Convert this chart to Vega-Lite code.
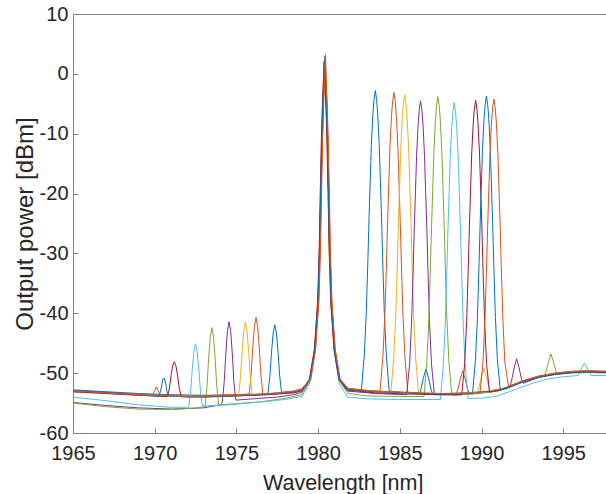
{
"$schema": "https://vega.github.io/schema/vega-lite/v6.json",
"width": 534, "height": 419,
"autosize": {"type": "none"},
"padding": {"left": 73, "top": 14, "right": 0, "bottom": 61},
"background": "white",
"config": {"view": {"stroke": "#808080", "strokeWidth": 1}, "font": "Liberation Sans"},
"data": {"values": [
{"s":"s1","x":1965,"y":-52.8},{"s":"s1","x":1967,"y":-53.1},{"s":"s1","x":1969,"y":-53.4},{"s":"s1","x":1971,"y":-53.6},{"s":"s1","x":1973,"y":-53.7},{"s":"s1","x":1975,"y":-53.6},{"s":"s1","x":1976.5,"y":-53.5},
{"s":"s1","x":1976.93,"y":-53.4},{"s":"s1","x":1977.05,"y":-50.5},{"s":"s1","x":1977.15,"y":-46.5},{"s":"s1","x":1977.25,"y":-43.3},{"s":"s1","x":1977.35,"y":-41.9},{"s":"s1","x":1977.45,"y":-43.3},{"s":"s1","x":1977.55,"y":-46.5},{"s":"s1","x":1977.65,"y":-50.5},{"s":"s1","x":1977.77,"y":-53.4},
{"s":"s1","x":1978.5,"y":-53.2},{"s":"s1","x":1979,"y":-52.8},{"s":"s1","x":1979.5,"y":-51},{"s":"s1","x":1979.8,"y":-46},{"s":"s1","x":1980,"y":-38},{"s":"s1","x":1980.1,"y":-29},{"s":"s1","x":1980.16,"y":-20},{"s":"s1","x":1980.23,"y":-11},{"s":"s1","x":1980.3,"y":-4.5},{"s":"s1","x":1980.35,"y":-1},{"s":"s1","x":1980.4,"y":2.8},{"s":"s1","x":1980.45,"y":-1},{"s":"s1","x":1980.5,"y":-4.5},{"s":"s1","x":1980.57,"y":-11},{"s":"s1","x":1980.64,"y":-20},{"s":"s1","x":1980.7,"y":-29},{"s":"s1","x":1980.8,"y":-38},{"s":"s1","x":1981,"y":-46},{"s":"s1","x":1981.3,"y":-51},{"s":"s1","x":1981.8,"y":-52.7},
{"s":"s1","x":1982.65,"y":-52.9},{"s":"s1","x":1982.83,"y":-46.8},{"s":"s1","x":1982.95,"y":-39.8},{"s":"s1","x":1983.05,"y":-30.8},{"s":"s1","x":1983.12,"y":-23.8},{"s":"s1","x":1983.19,"y":-17.8},{"s":"s1","x":1983.26,"y":-11.8},{"s":"s1","x":1983.35,"y":-6.8},{"s":"s1","x":1983.42,"y":-4.3},{"s":"s1","x":1983.5,"y":-2.8},{"s":"s1","x":1983.58,"y":-4.3},{"s":"s1","x":1983.65,"y":-6.8},{"s":"s1","x":1983.74,"y":-11.8},{"s":"s1","x":1983.81,"y":-17.8},{"s":"s1","x":1983.88,"y":-23.8},{"s":"s1","x":1983.95,"y":-30.8},{"s":"s1","x":1984.05,"y":-39.8},{"s":"s1","x":1984.17,"y":-46.8},{"s":"s1","x":1984.35,"y":-53},
{"s":"s1","x":1985.5,"y":-53.3},{"s":"s1","x":1986.2,"y":-53.4},{"s":"s1","x":1986.3,"y":-52.6},{"s":"s1","x":1986.45,"y":-50.7},{"s":"s1","x":1986.6,"y":-49.3},{"s":"s1","x":1986.75,"y":-50.7},{"s":"s1","x":1986.9,"y":-52.6},{"s":"s1","x":1987,"y":-53.4},
{"s":"s1","x":1988,"y":-53.4},{"s":"s1","x":1989,"y":-53.3},{"s":"s1","x":1990.5,"y":-53},{"s":"s1","x":1991.5,"y":-52.5},{"s":"s1","x":1992.5,"y":-51.4},{"s":"s1","x":1993.5,"y":-50.6},{"s":"s1","x":1994.5,"y":-50.1},{"s":"s1","x":1995.5,"y":-49.8},{"s":"s1","x":1996.5,"y":-49.7},{"s":"s1","x":1997.7,"y":-49.8},

{"s":"s2","x":1965,"y":-53},{"s":"s2","x":1967,"y":-53.3},{"s":"s2","x":1969,"y":-53.5},{"s":"s2","x":1971,"y":-53.8},{"s":"s2","x":1973,"y":-53.8},{"s":"s2","x":1975,"y":-53.6},
{"s":"s2","x":1975.78,"y":-53.5},{"s":"s2","x":1975.9,"y":-50.3},{"s":"s2","x":1976,"y":-45.8},{"s":"s2","x":1976.1,"y":-42.2},{"s":"s2","x":1976.2,"y":-40.7},{"s":"s2","x":1976.3,"y":-42.2},{"s":"s2","x":1976.4,"y":-45.8},{"s":"s2","x":1976.5,"y":-50.3},{"s":"s2","x":1976.62,"y":-53.5},
{"s":"s2","x":1977.5,"y":-53.3},{"s":"s2","x":1978.5,"y":-53},{"s":"s2","x":1979,"y":-52.6},
{"s":"s2","x":1979.52,"y":-51},{"s":"s2","x":1979.82,"y":-46},{"s":"s2","x":1980.02,"y":-38},{"s":"s2","x":1980.12,"y":-29},{"s":"s2","x":1980.18,"y":-20},{"s":"s2","x":1980.25,"y":-11},{"s":"s2","x":1980.32,"y":-4.5},{"s":"s2","x":1980.37,"y":-1},{"s":"s2","x":1980.42,"y":3},{"s":"s2","x":1980.47,"y":-1},{"s":"s2","x":1980.52,"y":-4.5},{"s":"s2","x":1980.59,"y":-11},{"s":"s2","x":1980.66,"y":-20},{"s":"s2","x":1980.72,"y":-29},{"s":"s2","x":1980.82,"y":-38},{"s":"s2","x":1981.02,"y":-46},{"s":"s2","x":1981.32,"y":-51},{"s":"s2","x":1981.82,"y":-52.5},
{"s":"s2","x":1983,"y":-52.9},{"s":"s2","x":1983.79,"y":-53},{"s":"s2","x":1983.97,"y":-47.1},{"s":"s2","x":1984.09,"y":-40.1},{"s":"s2","x":1984.19,"y":-31.1},{"s":"s2","x":1984.26,"y":-24.1},{"s":"s2","x":1984.33,"y":-18.1},{"s":"s2","x":1984.4,"y":-12.1},{"s":"s2","x":1984.49,"y":-7.1},{"s":"s2","x":1984.56,"y":-4.6},{"s":"s2","x":1984.64,"y":-3.1},{"s":"s2","x":1984.72,"y":-4.6},{"s":"s2","x":1984.79,"y":-7.1},{"s":"s2","x":1984.88,"y":-12.1},{"s":"s2","x":1984.95,"y":-18.1},{"s":"s2","x":1985.02,"y":-24.1},{"s":"s2","x":1985.09,"y":-31.1},{"s":"s2","x":1985.19,"y":-40.1},{"s":"s2","x":1985.31,"y":-47.1},{"s":"s2","x":1985.49,"y":-53.2},
{"s":"s2","x":1986.5,"y":-53.4},{"s":"s2","x":1988,"y":-53.5},{"s":"s2","x":1988.45,"y":-53.5},{"s":"s2","x":1988.55,"y":-52.7},{"s":"s2","x":1988.7,"y":-51},{"s":"s2","x":1988.85,"y":-49.6},{"s":"s2","x":1989,"y":-51},{"s":"s2","x":1989.15,"y":-52.7},{"s":"s2","x":1989.25,"y":-53.4},
{"s":"s2","x":1990.5,"y":-53},{"s":"s2","x":1991.5,"y":-52.4},{"s":"s2","x":1992.5,"y":-51.3},{"s":"s2","x":1993.5,"y":-50.5},{"s":"s2","x":1994.5,"y":-50},{"s":"s2","x":1995.5,"y":-49.7},{"s":"s2","x":1996.5,"y":-49.6},{"s":"s2","x":1997.7,"y":-49.7},

{"s":"s3","x":1965,"y":-53.2},{"s":"s3","x":1967,"y":-53.4},{"s":"s3","x":1969,"y":-53.7},{"s":"s3","x":1971,"y":-53.9},{"s":"s3","x":1973,"y":-53.9},{"s":"s3","x":1974.8,"y":-53.8},
{"s":"s3","x":1975.13,"y":-53.8},{"s":"s3","x":1975.25,"y":-50.7},{"s":"s3","x":1975.35,"y":-46.4},{"s":"s3","x":1975.45,"y":-43},{"s":"s3","x":1975.55,"y":-41.5},{"s":"s3","x":1975.65,"y":-43},{"s":"s3","x":1975.75,"y":-46.4},{"s":"s3","x":1975.85,"y":-50.7},{"s":"s3","x":1975.97,"y":-53.7},
{"s":"s3","x":1977,"y":-53.5},{"s":"s3","x":1978.5,"y":-53.1},{"s":"s3","x":1979,"y":-52.8},
{"s":"s3","x":1979.48,"y":-51},{"s":"s3","x":1979.78,"y":-46},{"s":"s3","x":1979.98,"y":-38},{"s":"s3","x":1980.08,"y":-29},{"s":"s3","x":1980.14,"y":-20},{"s":"s3","x":1980.21,"y":-11},{"s":"s3","x":1980.28,"y":-4.5},{"s":"s3","x":1980.33,"y":-1.2},{"s":"s3","x":1980.38,"y":2.2},{"s":"s3","x":1980.43,"y":-1.2},{"s":"s3","x":1980.48,"y":-4.5},{"s":"s3","x":1980.55,"y":-11},{"s":"s3","x":1980.62,"y":-20},{"s":"s3","x":1980.68,"y":-29},{"s":"s3","x":1980.78,"y":-38},{"s":"s3","x":1980.98,"y":-46},{"s":"s3","x":1981.28,"y":-51},{"s":"s3","x":1981.78,"y":-52.8},
{"s":"s3","x":1983.5,"y":-53.2},{"s":"s3","x":1984.45,"y":-53.3},{"s":"s3","x":1984.63,"y":-47.5},{"s":"s3","x":1984.75,"y":-40.5},{"s":"s3","x":1984.85,"y":-31.5},{"s":"s3","x":1984.92,"y":-24.5},{"s":"s3","x":1984.99,"y":-18.5},{"s":"s3","x":1985.06,"y":-12.5},{"s":"s3","x":1985.15,"y":-7.5},{"s":"s3","x":1985.22,"y":-5},{"s":"s3","x":1985.3,"y":-3.5},{"s":"s3","x":1985.38,"y":-5},{"s":"s3","x":1985.45,"y":-7.5},{"s":"s3","x":1985.54,"y":-12.5},{"s":"s3","x":1985.61,"y":-18.5},{"s":"s3","x":1985.68,"y":-24.5},{"s":"s3","x":1985.75,"y":-31.5},{"s":"s3","x":1985.85,"y":-40.5},{"s":"s3","x":1985.97,"y":-47.5},{"s":"s3","x":1986.15,"y":-53.4},
{"s":"s3","x":1987.5,"y":-53.5},{"s":"s3","x":1989,"y":-53.4},{"s":"s3","x":1989.75,"y":-53.2},{"s":"s3","x":1989.85,"y":-52.3},{"s":"s3","x":1990,"y":-50.6},{"s":"s3","x":1990.15,"y":-49.2},{"s":"s3","x":1990.3,"y":-50.6},{"s":"s3","x":1990.45,"y":-52.3},{"s":"s3","x":1990.55,"y":-53},
{"s":"s3","x":1991.5,"y":-52.5},{"s":"s3","x":1992.5,"y":-51.4},{"s":"s3","x":1993.5,"y":-50.7},{"s":"s3","x":1994.5,"y":-50.2},{"s":"s3","x":1995.5,"y":-49.9},{"s":"s3","x":1996.5,"y":-49.8},{"s":"s3","x":1997.7,"y":-49.9},

{"s":"s4","x":1965,"y":-54.9},{"s":"s4","x":1967,"y":-55.4},{"s":"s4","x":1969,"y":-55.8},{"s":"s4","x":1971,"y":-56},{"s":"s4","x":1973,"y":-55.8},{"s":"s4","x":1974,"y":-55.3},
{"s":"s4","x":1974.13,"y":-55},{"s":"s4","x":1974.25,"y":-51.6},{"s":"s4","x":1974.35,"y":-46.8},{"s":"s4","x":1974.45,"y":-43},{"s":"s4","x":1974.55,"y":-41.4},{"s":"s4","x":1974.65,"y":-43},{"s":"s4","x":1974.75,"y":-46.8},{"s":"s4","x":1974.85,"y":-51.6},{"s":"s4","x":1974.97,"y":-54.5},
{"s":"s4","x":1976,"y":-54.3},{"s":"s4","x":1977.5,"y":-54},{"s":"s4","x":1978.5,"y":-53.6},{"s":"s4","x":1979,"y":-53.2},
{"s":"s4","x":1979.5,"y":-51.2},{"s":"s4","x":1979.8,"y":-46},{"s":"s4","x":1980,"y":-38},{"s":"s4","x":1980.1,"y":-29},{"s":"s4","x":1980.16,"y":-20},{"s":"s4","x":1980.23,"y":-11},{"s":"s4","x":1980.3,"y":-4.5},{"s":"s4","x":1980.35,"y":-1.5},{"s":"s4","x":1980.4,"y":2},{"s":"s4","x":1980.45,"y":-1.5},{"s":"s4","x":1980.5,"y":-4.5},{"s":"s4","x":1980.57,"y":-11},{"s":"s4","x":1980.64,"y":-20},{"s":"s4","x":1980.7,"y":-29},{"s":"s4","x":1980.8,"y":-38},{"s":"s4","x":1981,"y":-46},{"s":"s4","x":1981.3,"y":-51.2},{"s":"s4","x":1981.8,"y":-53},
{"s":"s4","x":1983.5,"y":-53.4},{"s":"s4","x":1985.42,"y":-53.6},{"s":"s4","x":1985.6,"y":-48.5},{"s":"s4","x":1985.72,"y":-41.5},{"s":"s4","x":1985.82,"y":-32.5},{"s":"s4","x":1985.89,"y":-25.5},{"s":"s4","x":1985.96,"y":-19.5},{"s":"s4","x":1986.03,"y":-13.5},{"s":"s4","x":1986.12,"y":-8.5},{"s":"s4","x":1986.19,"y":-6},{"s":"s4","x":1986.27,"y":-4.5},{"s":"s4","x":1986.35,"y":-6},{"s":"s4","x":1986.42,"y":-8.5},{"s":"s4","x":1986.51,"y":-13.5},{"s":"s4","x":1986.58,"y":-19.5},{"s":"s4","x":1986.65,"y":-25.5},{"s":"s4","x":1986.72,"y":-32.5},{"s":"s4","x":1986.82,"y":-41.5},{"s":"s4","x":1986.94,"y":-48.5},{"s":"s4","x":1987.12,"y":-53.6},
{"s":"s4","x":1988.5,"y":-53.6},{"s":"s4","x":1990,"y":-53.3},{"s":"s4","x":1991.2,"y":-52.8},{"s":"s4","x":1991.75,"y":-52.2},{"s":"s4","x":1991.85,"y":-51.1},{"s":"s4","x":1992,"y":-49.1},{"s":"s4","x":1992.15,"y":-47.6},{"s":"s4","x":1992.3,"y":-49.1},{"s":"s4","x":1992.45,"y":-51},{"s":"s4","x":1992.55,"y":-51.7},
{"s":"s4","x":1993.5,"y":-50.7},{"s":"s4","x":1994.5,"y":-50.2},{"s":"s4","x":1995.5,"y":-49.9},{"s":"s4","x":1996.5,"y":-49.8},{"s":"s4","x":1997.7,"y":-49.9},

{"s":"s5","x":1965,"y":-55},{"s":"s5","x":1967,"y":-55.6},{"s":"s5","x":1969,"y":-56},{"s":"s5","x":1971,"y":-56.1},{"s":"s5","x":1972.6,"y":-55.8},
{"s":"s5","x":1973.08,"y":-55.6},{"s":"s5","x":1973.2,"y":-52.2},{"s":"s5","x":1973.3,"y":-47.6},{"s":"s5","x":1973.4,"y":-44},{"s":"s5","x":1973.5,"y":-42.4},{"s":"s5","x":1973.6,"y":-44},{"s":"s5","x":1973.7,"y":-47.6},{"s":"s5","x":1973.8,"y":-52.2},{"s":"s5","x":1973.92,"y":-55.3},
{"s":"s5","x":1975,"y":-55.1},{"s":"s5","x":1976.5,"y":-54.8},{"s":"s5","x":1978,"y":-54.2},{"s":"s5","x":1979,"y":-53.6},
{"s":"s5","x":1979.53,"y":-51.3},{"s":"s5","x":1979.83,"y":-46},{"s":"s5","x":1980.03,"y":-38},{"s":"s5","x":1980.13,"y":-29},{"s":"s5","x":1980.19,"y":-20},{"s":"s5","x":1980.26,"y":-11},{"s":"s5","x":1980.33,"y":-4.5},{"s":"s5","x":1980.38,"y":-1},{"s":"s5","x":1980.43,"y":2.6},{"s":"s5","x":1980.48,"y":-1},{"s":"s5","x":1980.53,"y":-4.5},{"s":"s5","x":1980.6,"y":-11},{"s":"s5","x":1980.67,"y":-20},{"s":"s5","x":1980.73,"y":-29},{"s":"s5","x":1980.83,"y":-38},{"s":"s5","x":1981.03,"y":-46},{"s":"s5","x":1981.33,"y":-51.4},{"s":"s5","x":1981.83,"y":-53.4},
{"s":"s5","x":1983,"y":-53.8},{"s":"s5","x":1985,"y":-53.9},{"s":"s5","x":1986.48,"y":-53.9},{"s":"s5","x":1986.66,"y":-47.8},{"s":"s5","x":1986.78,"y":-40.8},{"s":"s5","x":1986.88,"y":-31.8},{"s":"s5","x":1986.95,"y":-24.8},{"s":"s5","x":1987.02,"y":-18.8},{"s":"s5","x":1987.09,"y":-12.8},{"s":"s5","x":1987.18,"y":-7.8},{"s":"s5","x":1987.25,"y":-5.3},{"s":"s5","x":1987.33,"y":-3.8},{"s":"s5","x":1987.41,"y":-5.3},{"s":"s5","x":1987.48,"y":-7.8},{"s":"s5","x":1987.57,"y":-12.8},{"s":"s5","x":1987.64,"y":-18.8},{"s":"s5","x":1987.71,"y":-24.8},{"s":"s5","x":1987.78,"y":-31.8},{"s":"s5","x":1987.88,"y":-40.8},{"s":"s5","x":1988,"y":-47.8},{"s":"s5","x":1988.18,"y":-53.7},
{"s":"s5","x":1989.5,"y":-53.5},{"s":"s5","x":1991,"y":-53},{"s":"s5","x":1992,"y":-52},{"s":"s5","x":1993,"y":-51},{"s":"s5","x":1993.7,"y":-50.6},{"s":"s5","x":1993.85,"y":-50.5},{"s":"s5","x":1993.95,"y":-49.7},{"s":"s5","x":1994.1,"y":-48.1},{"s":"s5","x":1994.25,"y":-46.8},{"s":"s5","x":1994.4,"y":-48.1},{"s":"s5","x":1994.55,"y":-49.6},{"s":"s5","x":1994.65,"y":-50.2},
{"s":"s5","x":1995.5,"y":-50},{"s":"s5","x":1996.5,"y":-49.9},{"s":"s5","x":1997.7,"y":-50},

{"s":"s6","x":1965,"y":-54},{"s":"s6","x":1967,"y":-54.6},{"s":"s6","x":1969,"y":-55.3},{"s":"s6","x":1971,"y":-55.7},{"s":"s6","x":1971.9,"y":-55.7},
{"s":"s6","x":1972.08,"y":-55.7},{"s":"s6","x":1972.2,"y":-53.1},{"s":"s6","x":1972.3,"y":-49.3},{"s":"s6","x":1972.4,"y":-46.4},{"s":"s6","x":1972.5,"y":-45.1},{"s":"s6","x":1972.6,"y":-46.4},{"s":"s6","x":1972.7,"y":-49.3},{"s":"s6","x":1972.8,"y":-53.1},{"s":"s6","x":1972.92,"y":-55.5},
{"s":"s6","x":1974.5,"y":-55.3},{"s":"s6","x":1976.5,"y":-54.8},{"s":"s6","x":1978,"y":-54.4},{"s":"s6","x":1979,"y":-53.9},
{"s":"s6","x":1979.5,"y":-51.6},{"s":"s6","x":1979.8,"y":-46.5},{"s":"s6","x":1980,"y":-38},{"s":"s6","x":1980.1,"y":-29},{"s":"s6","x":1980.16,"y":-20},{"s":"s6","x":1980.23,"y":-11},{"s":"s6","x":1980.3,"y":-4.5},{"s":"s6","x":1980.35,"y":-1},{"s":"s6","x":1980.4,"y":2.4},{"s":"s6","x":1980.45,"y":-1},{"s":"s6","x":1980.5,"y":-4.5},{"s":"s6","x":1980.57,"y":-11},{"s":"s6","x":1980.64,"y":-20},{"s":"s6","x":1980.7,"y":-29},{"s":"s6","x":1980.8,"y":-38.5},{"s":"s6","x":1981,"y":-46.5},{"s":"s6","x":1981.3,"y":-51.8},{"s":"s6","x":1981.8,"y":-54},
{"s":"s6","x":1983,"y":-54.3},{"s":"s6","x":1985,"y":-54.4},{"s":"s6","x":1987,"y":-54.4},{"s":"s6","x":1987.48,"y":-54.4},{"s":"s6","x":1987.66,"y":-48.8},{"s":"s6","x":1987.78,"y":-41.8},{"s":"s6","x":1987.88,"y":-32.8},{"s":"s6","x":1987.95,"y":-25.8},{"s":"s6","x":1988.02,"y":-19.8},{"s":"s6","x":1988.09,"y":-13.8},{"s":"s6","x":1988.18,"y":-8.8},{"s":"s6","x":1988.25,"y":-6.3},{"s":"s6","x":1988.33,"y":-4.8},{"s":"s6","x":1988.41,"y":-6.3},{"s":"s6","x":1988.48,"y":-8.8},{"s":"s6","x":1988.57,"y":-13.8},{"s":"s6","x":1988.64,"y":-19.8},{"s":"s6","x":1988.71,"y":-25.8},{"s":"s6","x":1988.78,"y":-32.8},{"s":"s6","x":1988.88,"y":-41.8},{"s":"s6","x":1989,"y":-48.8},{"s":"s6","x":1989.18,"y":-54.2},
{"s":"s6","x":1990,"y":-54.2},{"s":"s6","x":1991,"y":-53.8},{"s":"s6","x":1992,"y":-52.8},{"s":"s6","x":1993,"y":-51.8},{"s":"s6","x":1994,"y":-51},{"s":"s6","x":1995,"y":-50.6},{"s":"s6","x":1995.9,"y":-50.4},{"s":"s6","x":1996,"y":-49.9},{"s":"s6","x":1996.15,"y":-49},{"s":"s6","x":1996.3,"y":-48.3},{"s":"s6","x":1996.45,"y":-49},{"s":"s6","x":1996.6,"y":-49.9},{"s":"s6","x":1996.7,"y":-50.4},{"s":"s6","x":1997.7,"y":-50.4},

{"s":"s7","x":1965,"y":-53.1},{"s":"s7","x":1967,"y":-53.4},{"s":"s7","x":1969,"y":-53.7},{"s":"s7","x":1970.6,"y":-53.9},
{"s":"s7","x":1970.78,"y":-53.9},{"s":"s7","x":1970.9,"y":-52.5},{"s":"s7","x":1971,"y":-50.4},{"s":"s7","x":1971.1,"y":-48.8},{"s":"s7","x":1971.2,"y":-48.1},{"s":"s7","x":1971.3,"y":-48.8},{"s":"s7","x":1971.4,"y":-50.4},{"s":"s7","x":1971.5,"y":-52.5},{"s":"s7","x":1971.62,"y":-53.9},
{"s":"s7","x":1973,"y":-54},{"s":"s7","x":1975,"y":-53.8},{"s":"s7","x":1977,"y":-53.6},{"s":"s7","x":1978.5,"y":-53.3},{"s":"s7","x":1979,"y":-53},
{"s":"s7","x":1979.47,"y":-51},{"s":"s7","x":1979.77,"y":-46},{"s":"s7","x":1979.97,"y":-38},{"s":"s7","x":1980.07,"y":-29},{"s":"s7","x":1980.13,"y":-20},{"s":"s7","x":1980.2,"y":-11},{"s":"s7","x":1980.27,"y":-4.5},{"s":"s7","x":1980.32,"y":-1.3},{"s":"s7","x":1980.37,"y":2},{"s":"s7","x":1980.42,"y":-1.3},{"s":"s7","x":1980.47,"y":-4.5},{"s":"s7","x":1980.54,"y":-11},{"s":"s7","x":1980.61,"y":-20},{"s":"s7","x":1980.67,"y":-29},{"s":"s7","x":1980.77,"y":-38},{"s":"s7","x":1980.97,"y":-46},{"s":"s7","x":1981.27,"y":-51},{"s":"s7","x":1981.77,"y":-52.8},
{"s":"s7","x":1983.5,"y":-53.3},{"s":"s7","x":1985.5,"y":-53.5},{"s":"s7","x":1987.5,"y":-53.6},{"s":"s7","x":1988.79,"y":-53.6},{"s":"s7","x":1988.97,"y":-48.4},{"s":"s7","x":1989.09,"y":-41.4},{"s":"s7","x":1989.19,"y":-32.4},{"s":"s7","x":1989.26,"y":-25.4},{"s":"s7","x":1989.33,"y":-19.4},{"s":"s7","x":1989.4,"y":-13.4},{"s":"s7","x":1989.49,"y":-8.4},{"s":"s7","x":1989.56,"y":-5.9},{"s":"s7","x":1989.64,"y":-4.4},{"s":"s7","x":1989.72,"y":-5.9},{"s":"s7","x":1989.79,"y":-8.4},{"s":"s7","x":1989.88,"y":-13.4},{"s":"s7","x":1989.95,"y":-19.4},{"s":"s7","x":1990.02,"y":-25.4},{"s":"s7","x":1990.09,"y":-32.4},{"s":"s7","x":1990.19,"y":-41.4},{"s":"s7","x":1990.31,"y":-48.4},{"s":"s7","x":1990.49,"y":-53.2},
{"s":"s7","x":1991.5,"y":-52.6},{"s":"s7","x":1992.5,"y":-51.5},{"s":"s7","x":1993.5,"y":-50.7},{"s":"s7","x":1994.5,"y":-50.2},{"s":"s7","x":1995.5,"y":-49.9},{"s":"s7","x":1996.5,"y":-49.8},{"s":"s7","x":1997.7,"y":-49.9},

{"s":"s8","x":1965,"y":-52.9},{"s":"s8","x":1967,"y":-53.2},{"s":"s8","x":1969,"y":-53.6},{"s":"s8","x":1970,"y":-53.8},
{"s":"s8","x":1970.27,"y":-53.8},{"s":"s8","x":1970.4,"y":-52.5},{"s":"s8","x":1970.5,"y":-51},{"s":"s8","x":1970.57,"y":-50.8},{"s":"s8","x":1970.65,"y":-51.4},{"s":"s8","x":1970.75,"y":-53},{"s":"s8","x":1970.85,"y":-53.8},
{"s":"s8","x":1972,"y":-54},{"s":"s8","x":1974,"y":-53.9},{"s":"s8","x":1976,"y":-53.7},{"s":"s8","x":1977.5,"y":-53.4},{"s":"s8","x":1978.5,"y":-53.1},{"s":"s8","x":1979,"y":-52.8},
{"s":"s8","x":1979.5,"y":-51},{"s":"s8","x":1979.8,"y":-46},{"s":"s8","x":1980,"y":-38},{"s":"s8","x":1980.1,"y":-29},{"s":"s8","x":1980.16,"y":-20},{"s":"s8","x":1980.23,"y":-11},{"s":"s8","x":1980.3,"y":-4.5},{"s":"s8","x":1980.35,"y":-1.1},{"s":"s8","x":1980.4,"y":2.3},{"s":"s8","x":1980.45,"y":-1.1},{"s":"s8","x":1980.5,"y":-4.5},{"s":"s8","x":1980.57,"y":-11},{"s":"s8","x":1980.64,"y":-20},{"s":"s8","x":1980.7,"y":-29},{"s":"s8","x":1980.8,"y":-38},{"s":"s8","x":1981,"y":-46},{"s":"s8","x":1981.3,"y":-51},{"s":"s8","x":1981.8,"y":-52.7},
{"s":"s8","x":1983.5,"y":-53.1},{"s":"s8","x":1985.5,"y":-53.3},{"s":"s8","x":1987.5,"y":-53.5},{"s":"s8","x":1989.45,"y":-53.4},{"s":"s8","x":1989.63,"y":-47.7},{"s":"s8","x":1989.75,"y":-40.7},{"s":"s8","x":1989.85,"y":-31.7},{"s":"s8","x":1989.92,"y":-24.7},{"s":"s8","x":1989.99,"y":-18.7},{"s":"s8","x":1990.06,"y":-12.7},{"s":"s8","x":1990.15,"y":-7.7},{"s":"s8","x":1990.22,"y":-5.2},{"s":"s8","x":1990.3,"y":-3.7},{"s":"s8","x":1990.38,"y":-5.2},{"s":"s8","x":1990.45,"y":-7.7},{"s":"s8","x":1990.54,"y":-12.7},{"s":"s8","x":1990.61,"y":-18.7},{"s":"s8","x":1990.68,"y":-24.7},{"s":"s8","x":1990.75,"y":-31.7},{"s":"s8","x":1990.85,"y":-40.7},{"s":"s8","x":1990.97,"y":-47.7},{"s":"s8","x":1991.15,"y":-52.8},
{"s":"s8","x":1992,"y":-52},{"s":"s8","x":1993,"y":-51},{"s":"s8","x":1994,"y":-50.4},{"s":"s8","x":1995,"y":-50},{"s":"s8","x":1996,"y":-49.8},{"s":"s8","x":1997.7,"y":-49.8},

{"s":"s9","x":1965,"y":-53},{"s":"s9","x":1967,"y":-53.3},{"s":"s9","x":1969,"y":-53.6},{"s":"s9","x":1969.7,"y":-53.7},
{"s":"s9","x":1969.85,"y":-53.7},{"s":"s9","x":1970,"y":-52.9},{"s":"s9","x":1970.1,"y":-52.3},{"s":"s9","x":1970.2,"y":-52.9},{"s":"s9","x":1970.35,"y":-53.7},
{"s":"s9","x":1972,"y":-53.9},{"s":"s9","x":1974,"y":-53.8},{"s":"s9","x":1976,"y":-53.6},{"s":"s9","x":1977.5,"y":-53.3},{"s":"s9","x":1978.5,"y":-53},{"s":"s9","x":1979,"y":-52.7},
{"s":"s9","x":1979.55,"y":-51},{"s":"s9","x":1979.85,"y":-46},{"s":"s9","x":1980.05,"y":-38},{"s":"s9","x":1980.15,"y":-29},{"s":"s9","x":1980.21,"y":-20},{"s":"s9","x":1980.28,"y":-11},{"s":"s9","x":1980.35,"y":-4.5},{"s":"s9","x":1980.4,"y":-0.8},{"s":"s9","x":1980.45,"y":3.2},{"s":"s9","x":1980.5,"y":-0.8},{"s":"s9","x":1980.55,"y":-4.5},{"s":"s9","x":1980.62,"y":-11},{"s":"s9","x":1980.69,"y":-20},{"s":"s9","x":1980.75,"y":-29},{"s":"s9","x":1980.85,"y":-38},{"s":"s9","x":1981.05,"y":-46},{"s":"s9","x":1981.35,"y":-51},{"s":"s9","x":1981.85,"y":-52.6},
{"s":"s9","x":1983.5,"y":-53},{"s":"s9","x":1985.5,"y":-53.2},{"s":"s9","x":1987.5,"y":-53.4},{"s":"s9","x":1989.91,"y":-53.3},{"s":"s9","x":1990.09,"y":-48.2},{"s":"s9","x":1990.21,"y":-41.2},{"s":"s9","x":1990.31,"y":-32.2},{"s":"s9","x":1990.38,"y":-25.2},{"s":"s9","x":1990.45,"y":-19.2},{"s":"s9","x":1990.52,"y":-13.2},{"s":"s9","x":1990.61,"y":-8.2},{"s":"s9","x":1990.68,"y":-5.7},{"s":"s9","x":1990.76,"y":-4.2},{"s":"s9","x":1990.84,"y":-5.7},{"s":"s9","x":1990.91,"y":-8.2},{"s":"s9","x":1991,"y":-13.2},{"s":"s9","x":1991.07,"y":-19.2},{"s":"s9","x":1991.14,"y":-25.2},{"s":"s9","x":1991.21,"y":-32.2},{"s":"s9","x":1991.31,"y":-41.2},{"s":"s9","x":1991.43,"y":-48.2},{"s":"s9","x":1991.65,"y":-52.2},
{"s":"s9","x":1992.5,"y":-51.3},{"s":"s9","x":1993.5,"y":-50.5},{"s":"s9","x":1994.5,"y":-50},{"s":"s9","x":1995.5,"y":-49.7},{"s":"s9","x":1996.5,"y":-49.6},{"s":"s9","x":1997.7,"y":-49.7}
]},
"mark": {"type": "line", "strokeWidth": 1, "clip": true},
"encoding": {
  "x": {"field": "x", "type": "quantitative",
    "scale": {"domain": [1965, 1997.68], "nice": false, "zero": false},
    "axis": {"values": [1965, 1970, 1975, 1980, 1985, 1990, 1995], "labelExpr": "'' + datum.value", "grid": false,
      "tickSize": -5, "labelPadding": 15, "labelFontSize": 20, "labelColor": "#262626", "labelFont": "Liberation Sans",
      "domainColor": "#808080", "tickColor": "#808080", "labelFlush": false, "labelOverlap": false,
      "title": "Wavelength [nm]", "titleFontSize": 21.5, "titleFontWeight": "normal", "titleColor": "#262626", "titleFont": "Liberation Sans",
      "titleX": 269.7, "titleY": 56, "titleBaseline": "alphabetic", "titleAlign": "center"}},
  "y": {"field": "y", "type": "quantitative",
    "scale": {"domain": [-60, 10], "nice": false, "zero": false},
    "axis": {"values": [-60, -50, -40, -30, -20, -10, 0, 10], "labelExpr": "'' + datum.value", "grid": false,
      "tickSize": -5, "labelPadding": 10, "labelFontSize": 20, "labelColor": "#262626", "labelFont": "Liberation Sans",
      "domainColor": "#808080", "tickColor": "#808080", "labelFlush": false, "labelOverlap": false,
      "title": "Output power [dBm]", "titleFontSize": 24, "titleFontWeight": "normal", "titleColor": "#262626", "titleFont": "Liberation Sans",
      "titleAngle": -90, "titleX": -41, "titleY": 209.5, "titleBaseline": "alphabetic", "titleAlign": "center"}},
  "color": {"field": "s", "type": "nominal", "legend": null,
    "scale": {"domain": ["s1","s2","s3","s4","s5","s6","s7","s8","s9"],
      "range": ["#0072BD","#D95319","#EDB120","#7E2F8E","#77AC30","#4DBEEE","#A2142F","#0072BD","#D95319"]}}
}
}
